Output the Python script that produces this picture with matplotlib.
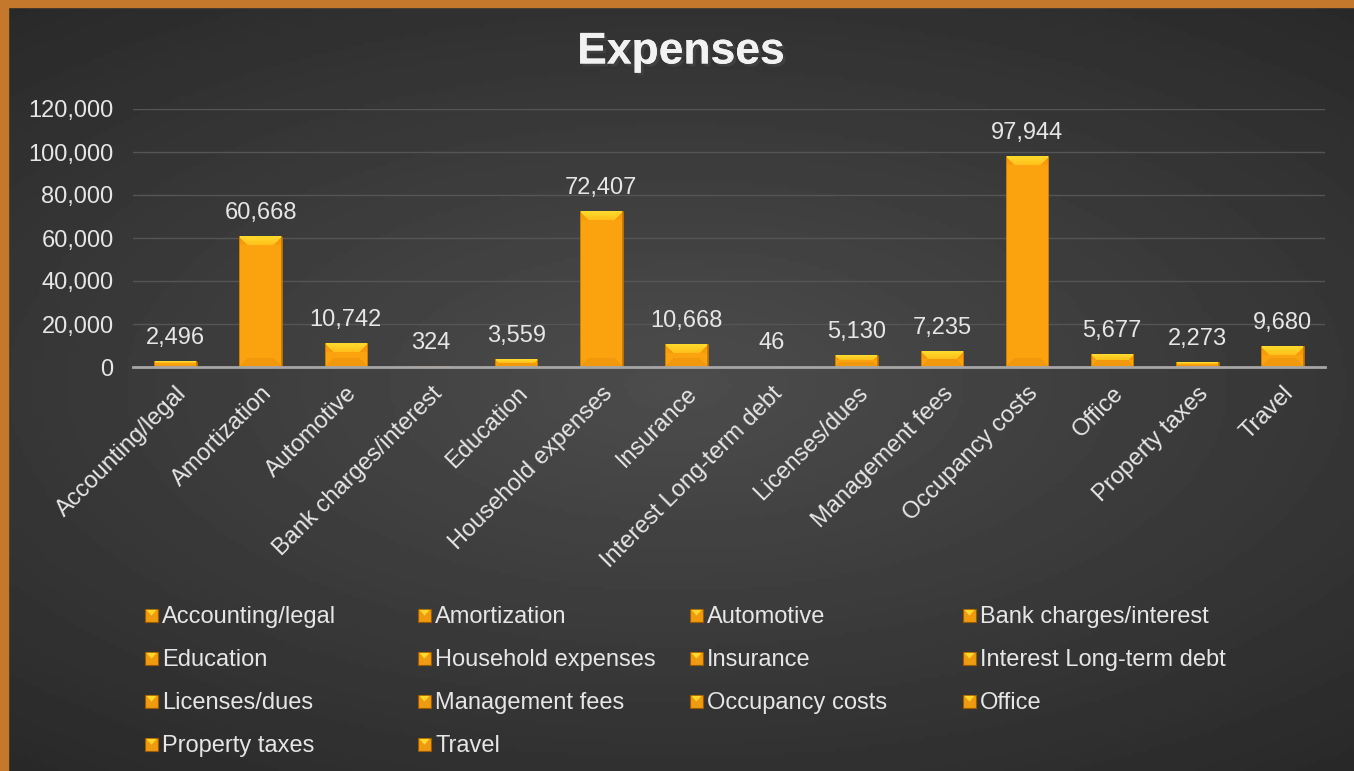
import numpy as np
import matplotlib.pyplot as plt
import matplotlib.patheffects as pe
from matplotlib.patches import Rectangle, Polygon
from matplotlib.ticker import FuncFormatter

categories = ['Accounting/legal', 'Amortization', 'Automotive', 'Bank charges/interest',
              'Education', 'Household expenses', 'Insurance', 'Interest Long-term debt',
              'Licenses/dues', 'Management fees', 'Occupancy costs', 'Office',
              'Property taxes', 'Travel']
values = [2496, 60668, 10742, 324, 3559, 72407, 10668, 46, 5130, 7235, 97944, 5677, 2273, 9680]
yticks = [0, 20000, 40000, 60000, 80000, 100000, 120000]

txt = '#e6e6e6'
bar_col = '#fba20f'
W_PX, H_PX = 1354, 771

plt.rcParams['font.family'] = ['Liberation Sans', 'DejaVu Sans']

fig = plt.figure(figsize=(W_PX / 100, H_PX / 100), dpi=100)

# background: soft gradient, lighter in the middle, orange frame top/left
bg = fig.add_axes([0, 0, 1, 1], zorder=-10)
yy, xx = np.mgrid[0:1:200j, 0:1:350j]
d = np.sqrt(((xx - 0.5) * 1.0) ** 2 + ((yy - 0.5) * 1.2) ** 2)
shade = np.clip(0.30 - 0.18 * d, 0.15, 0.30)
bg.imshow(shade, cmap='gray', vmin=0, vmax=1, aspect='auto', extent=[0, 1, 0, 1], origin='lower')
bg.add_patch(Rectangle((0, 0), 8 / W_PX, 1, color='#c4782c', transform=bg.transAxes))
bg.add_patch(Rectangle((0, 1 - 7 / H_PX), 1, 7 / H_PX, color='#c4782c', transform=bg.transAxes))
bg.set_xlim(0, 1)
bg.set_ylim(0, 1)
bg.axis('off')

ax_box = [133 / W_PX, 1 - 367 / H_PX, (1325 - 133) / W_PX, (367 - 109) / H_PX]
ax = fig.add_axes(ax_box)
ax.patch.set_alpha(0)
x = np.arange(len(categories))
bw = 0.5
bars = ax.bar(x, values, width=bw, color=bar_col, edgecolor='#b86e00', linewidth=0.6, zorder=3)

ymax = 120000
ax_w_px = ax_box[2] * W_PX
ax_h_px = ax_box[3] * H_PX


def bevel_img(h, w):
    # beveled bar face in pixels: yellow top, slightly darker bottom
    img = np.zeros((h, w, 3))
    img[:] = np.array([251, 162, 15]) / 255
    b = int(min(9, h // 2, w // 2))
    top = np.array([255, 218, 45]) / 255
    top2 = np.array([255, 192, 28]) / 255
    bot = np.array([242, 152, 12]) / 255
    side = np.array([247, 154, 12]) / 255
    for r in range(b):
        t = r / max(b - 1, 1)
        img[r, r:w - r] = top * (1 - t) + top2 * t
        img[r, :r] = side
        img[r, w - r:] = side
        rb = h - 1 - r
        img[rb, r:w - r] = bot
    img[:, 0] = img[:, -1] = np.array([205, 125, 0]) / 255
    return img


for b in bars:
    hp = int(round(b.get_height() / ymax * ax_h_px))
    wp = int(round(bw * ax_w_px / len(categories)))
    if hp < 2:
        continue
    ax.imshow(bevel_img(hp, wp), aspect='auto', origin='upper', interpolation='nearest',
              extent=[b.get_x(), b.get_x() + b.get_width(), 0, b.get_height()], zorder=3.5)

for xi, v in zip(x, values):
    ax.annotate(f'{v:,}', (xi, v), xytext=(0, 9), textcoords='offset points',
                ha='center', va='bottom', color=txt, fontsize=17, zorder=5)

ax.set_xlim(-0.5, len(categories) - 0.5)
ax.set_ylim(0, ymax)
ax.set_yticks(yticks)
ax.yaxis.set_major_formatter(FuncFormatter(lambda v, p: f'{int(v):,}'))
ax.grid(axis='y', color='#555555', linewidth=1, zorder=0)
ax.set_xticks(x)
ax.set_xticklabels(categories, rotation=45, ha='right', rotation_mode='anchor')
ax.tick_params(axis='both', length=0, colors=txt, labelsize=17)
ax.tick_params(axis='y', pad=14)
ax.tick_params(axis='x', pad=11)
for s in ['top', 'right', 'left']:
    ax.spines[s].set_visible(False)
ax.spines['bottom'].set_color('#a6a6a6')
ax.spines['bottom'].set_linewidth(2)
ax.spines['bottom'].set_zorder(6)

fig.text(0.503, 1 - 52 / H_PX, 'Expenses', ha='center', va='center', fontsize=32,
         fontweight='bold', color='#f2f2f2',
         path_effects=[pe.withSimplePatchShadow(offset=(2, -2), alpha=0.6), pe.Normal()])

# legend laid out row by row, 4 equal columns
col_x = [145, 418, 690, 963]
row_y = [615, 658, 701, 744]
sq = 13
for i, name in enumerate(categories):
    cx = col_x[i % 4]
    cy = row_y[i // 4]
    x0, y0 = cx / W_PX, 1 - (cy + sq / 2) / H_PX
    sw, sh = sq / W_PX, sq / H_PX
    fig.add_artist(Rectangle((x0, y0), sw, sh, facecolor='#f09a10', edgecolor='#9a5a00',
                             linewidth=0.8, transform=fig.transFigure))
    fig.add_artist(Polygon([[x0 + sw * 0.1, y0 + sh * 0.9], [x0 + sw * 0.9, y0 + sh * 0.9],
                            [x0 + sw * 0.5, y0 + sh * 0.45]], closed=True,
                           facecolor='#ffd62a', edgecolor='none', transform=fig.transFigure))
    fig.text((cx + 17) / W_PX, 1 - (cy + 8) / H_PX, name, ha='left', va='baseline',
             fontsize=17, color=txt)

fig.savefig('out.png', dpi=100)
